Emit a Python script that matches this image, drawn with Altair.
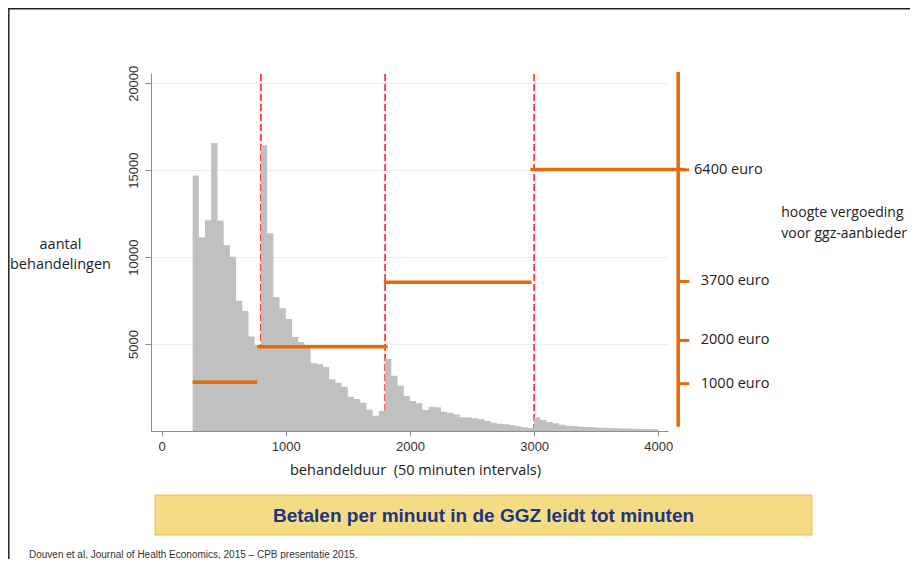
import altair as alt
import pandas as pd

# ---- histogram: treatment duration in 50-minute bins ----
bin_start = [250, 300, 350, 400, 450, 500, 550, 600, 650, 700, 750,
             800, 850, 900, 950, 1000, 1050, 1100, 1150, 1200, 1250,
             1300, 1350, 1400, 1450, 1500, 1550, 1600, 1650, 1700, 1750,
             1800, 1850, 1900, 1950, 2000, 2050, 2100, 2150, 2200, 2250,
             2300, 2350, 2400, 2450, 2500, 2550, 2600, 2650, 2700, 2750,
             2800, 2850, 2900, 2950, 3000, 3050, 3100, 3150, 3200, 3250,
             3300, 3350, 3400, 3450, 3500, 3550, 3600, 3650, 3700, 3750,
             3800, 3850, 3900, 3950]
counts = [14700, 11150, 12120, 16570, 12100, 10700, 10020, 7490, 6900, 5440, 4950,
          16430, 11370, 7710, 7060, 6440, 5400, 5120, 4850, 3890, 3840,
          3680, 2980, 2780, 2540, 1970, 1840, 1630, 1220, 880, 1160,
          4150, 3180, 2600, 2010, 1720, 1590, 1210, 1400, 1360, 1110,
          1050, 950, 790, 780, 730, 670, 575, 480, 420, 385,
          345, 270, 210, 175, 780, 630, 520, 440, 365, 305,
          285, 250, 230, 210, 190, 180, 170, 160, 150, 140,
          130, 120, 115, 100]
BIN_WIDTH = 50

# ---- tariff thresholds and reimbursement levels ----
thresholds = [800, 1800, 3000]
tariff_start = [250, 770, 1790, 2970]
tariff_end = [770, 1820, 2980, 4215]
tariff_level = [2800, 4850, 8550, 15040]
tariff_labels = ["1000 euro", "2000 euro", "3700 euro", "6400 euro"]
scale_tick_y = [2720, 5210, 8600, 15020]
label_x = [4342, 4342, 4342, 4288]
scale_bar_x = 4160
scale_bar_y = [250, 20650]
scale_tick_end = 4250

side_note = ["hoogte vergoeding", "voor ggz-aanbieder"]
side_note_y = [12530, 11320]
side_note_x = 4990

x_ticks = [0, 1000, 2000, 3000, 4000]
y_ticks = [5000, 10000, 15000, 20000]

banner = "Betalen per minuut in de GGZ leidt tot minuten"
footer = "Douven et al, Journal of Health Economics, 2015 \u2013 CPB presentatie 2015."

ORANGE = "#E36C0A"
CAL = "Open Sans"

# step outline of the histogram (closing point at the end of the last bin)
hist = pd.DataFrame({"start": bin_start + [bin_start[-1] + BIN_WIDTH],
                     "count": counts + [counts[-1]]})

xs = alt.Scale(domain=[-85, 4078], nice=False, zero=False)
ys = alt.Scale(domain=[0, 20590], nice=False, zero=True)

x_axis = alt.Axis(values=x_ticks, format="d", grid=False, tickSize=5, labelPadding=4,
                  title="behandelduur \u00a0(50 minuten intervals)",
                  titleX=264, titleY=43, titleAlign="center", titleBaseline="alphabetic",
                  titleFont=CAL, titleFontSize=14.5, titleFontWeight="normal",
                  titleColor="#222222")
y_axis = alt.Axis(values=y_ticks, format="d", grid=True, gridColor="#E6F0F0",
                  tickSize=6, labelAngle=270, labelAlign="center",
                  labelBaseline="alphabetic", labelPadding=8,
                  title=["aantal", "behandelingen"], titleAngle=0,
                  titleX=-91, titleY=175, titleAlign="center",
                  titleBaseline="alphabetic", titleLineHeight=20,
                  titleFont=CAL, titleFontSize=14.5, titleFontWeight="normal",
                  titleColor="#222222")


def X(f):
    return alt.X(f, scale=xs, axis=x_axis)


def Y(f):
    return alt.Y(f, scale=ys, axis=y_axis)


rules = alt.Chart(pd.DataFrame({"x": thresholds, "y0": [0] * 3, "y1": [20590] * 3})).mark_rule(
    color="#FF3B3B", strokeWidth=1.8, strokeDash=[7, 3]
).encode(x=X("x:Q"), y=Y("y0:Q"), y2="y1:Q")

bars = alt.Chart(hist).mark_area(color="#C0C0C0", interpolate="step-after", opacity=1).encode(
    x=X("start:Q"), y=Y("count:Q")
)

tariffs = alt.Chart(pd.DataFrame({"x": tariff_start, "x2": tariff_end, "y": tariff_level})).mark_rule(
    color=ORANGE, strokeWidth=3.5
).encode(x=X("x:Q"), x2="x2:Q", y=Y("y:Q"))

scale_bar = alt.Chart(pd.DataFrame({"x": [scale_bar_x], "y": [scale_bar_y[0]], "y2": [scale_bar_y[1]]})).mark_rule(
    color=ORANGE, strokeWidth=3.5
).encode(x=X("x:Q"), y=Y("y:Q"), y2="y2:Q")

scale_ticks = alt.Chart(pd.DataFrame({"x": [scale_bar_x] * 4, "x2": [scale_tick_end] * 4,
                                      "y": scale_tick_y})).mark_rule(
    color=ORANGE, strokeWidth=3
).encode(x=X("x:Q"), x2="x2:Q", y=Y("y:Q"))

euro_text = alt.Chart(pd.DataFrame({"x": label_x, "y": scale_tick_y, "t": tariff_labels})).mark_text(
    align="left", baseline="middle", font=CAL, fontSize=14.5, color="#222222"
).encode(x=X("x:Q"), y=Y("y:Q"), text="t:N")

note_text = alt.Chart(pd.DataFrame({"x": [side_note_x] * 2, "y": side_note_y, "t": side_note})).mark_text(
    align="left", baseline="middle", font=CAL, fontSize=14, color="#222222"
).encode(x=X("x:Q"), y=Y("y:Q"), text="t:N")

one = pd.DataFrame({"t": [banner]})
banner_box = alt.Chart(one).mark_rect(fill="#F5DC84", stroke="#EFC04A", strokeWidth=1).encode(
    x=alt.value(4), x2=alt.value(661), y=alt.value(422), y2=alt.value(462)
)
banner_text = alt.Chart(one).mark_text(
    align="center", baseline="alphabetic", font="Liberation Sans", fontSize=19,
    fontWeight="bold", color="#1C3680"
).encode(x=alt.value(332.5), y=alt.value(449), text="t:N")

footer_text = alt.Chart(pd.DataFrame({"t": [footer]})).mark_text(
    align="left", baseline="alphabetic", font="Liberation Sans", fontSize=10, color="#333333"
).encode(x=alt.value(-122), y=alt.value(485), text="t:N")

frame_left = alt.Chart(pd.DataFrame({"a": [1]})).mark_rule(color="#222222", strokeWidth=1.5).encode(
    x=alt.value(-142.2), y=alt.value(-64.5), y2=alt.value(490)
)
frame_top = alt.Chart(pd.DataFrame({"a": [1]})).mark_rule(color="#222222", strokeWidth=1.5).encode(
    x=alt.value(-143), x2=alt.value(770), y=alt.value(-64.2)
)

chart = alt.layer(
    rules, bars, tariffs, scale_bar, scale_ticks, euro_text, note_text,
    banner_box, banner_text, footer_text, frame_left, frame_top
).properties(
    width=517, height=358,
    autosize=alt.AutoSizeParams(type="none"),
    padding={"left": 143, "top": 65, "right": 242, "bottom": 128},
    background="white",
).configure_view(stroke=None).configure_axis(
    domainColor="#8C8C8C", tickColor="#8C8C8C", labelColor="#333333",
    labelFont="Liberation Sans", labelFontSize=13,
)

chart.save("out.html", embed_options={"renderer": "svg", "actions": False})
